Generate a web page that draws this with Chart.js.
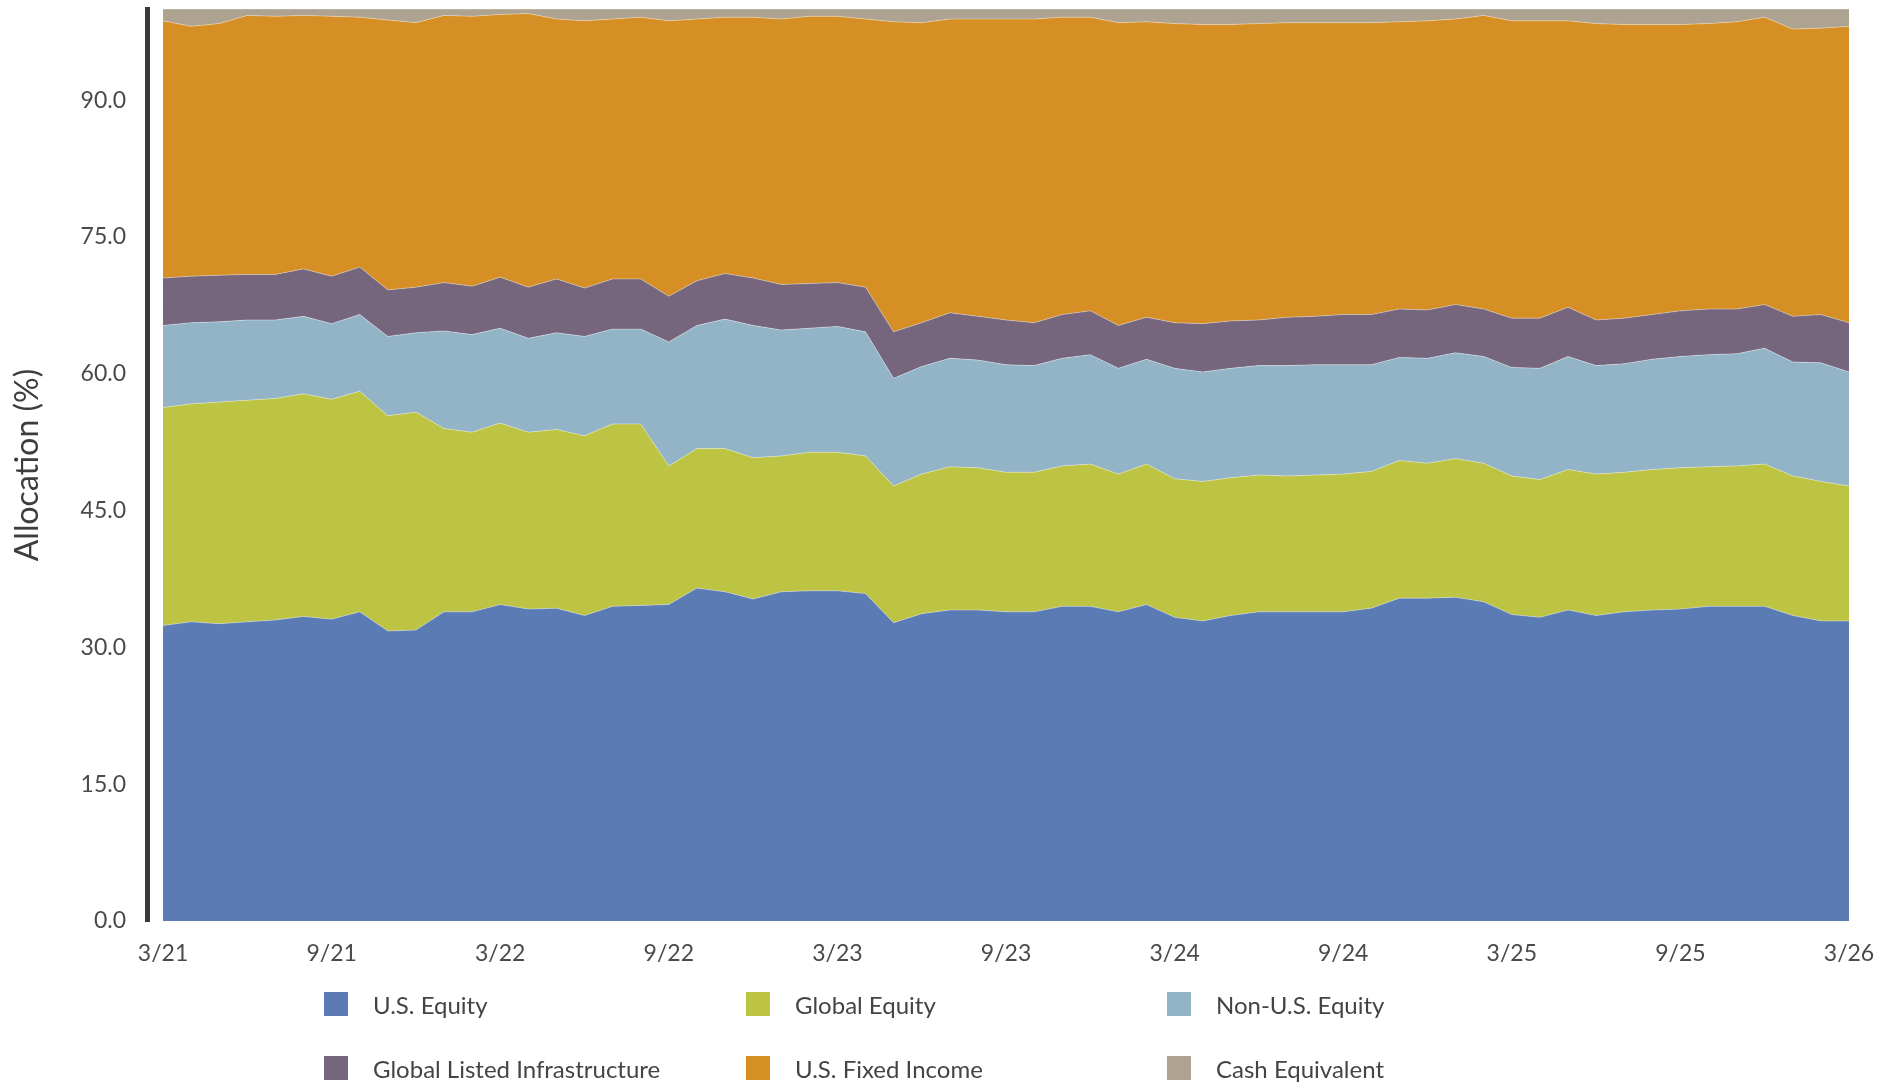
<!DOCTYPE html>
<html>
<head>
<meta charset="utf-8">
<title>Allocation</title>
<script src="https://cdn.jsdelivr.net/npm/chart.js@4.4.1/dist/chart.umd.min.js"></script>
<style>
  body { margin: 0; background: #fff; }
  #wrap { position: relative; width: 1895px; height: 1085px; }
  #legend {
    position: absolute; left: 324px; top: 992px;
    display: grid; grid-template-columns: 422px 421px 320px; row-gap: 40px;
    font-family: Lato, "Open Sans", sans-serif; font-size: 24px; color: #444;
  }
  .item { display: flex; align-items: center; height: 24px; white-space: nowrap; }
  .box { width: 24px; height: 24px; margin-right: 25px; flex: none; }
</style>
</head>
<body>
<div id="wrap">
  <canvas id="alloc" width="1895" height="1085"></canvas>
  <div id="legend"></div>
</div>
<script>
// mois de fin, de 3/21 à 3/26
const months = [
  '3/21','4/21','5/21','6/21','7/21','8/21','9/21','10/21','11/21','12/21',
  '1/22','2/22','3/22','4/22','5/22','6/22','7/22','8/22','9/22','10/22','11/22','12/22',
  '1/23','2/23','3/23','4/23','5/23','6/23','7/23','8/23','9/23','10/23','11/23','12/23',
  '1/24','2/24','3/24','4/24','5/24','6/24','7/24','8/24','9/24','10/24','11/24','12/24',
  '1/25','2/25','3/25','4/25','5/25','6/25','7/25','8/25','9/25','10/25','11/25','12/25',
  '1/26','2/26','3/26'
];
const xTickLabels = ['3/21','9/21','3/22','9/22','3/23','9/23','3/24','9/24','3/25','9/25','3/26'];
const yTicks = [0, 15, 30, 45, 60, 75, 90];

const usEquity = [
  32.4,32.8,32.6,32.8,33.0,33.4,33.1,33.9,31.8,31.9,
  33.9,33.9,34.7,34.2,34.3,33.5,34.5,34.6,34.7,36.5,36.1,35.3,
  36.1,36.2,36.2,35.9,32.7,33.7,34.1,34.1,33.9,33.9,34.5,34.5,
  33.9,34.7,33.3,32.9,33.5,33.9,33.9,33.9,33.9,34.3,35.4,35.4,
  35.5,35.0,33.6,33.3,34.1,33.5,33.9,34.1,34.2,34.5,34.5,34.5,
  33.5,32.9,32.9
];
const globalEquity = [
  23.9,23.9,24.3,24.3,24.3,24.4,24.1,24.2,23.6,23.9,
  20.1,19.7,19.9,19.4,19.6,19.7,20.0,19.9,15.2,15.3,15.7,15.5,
  14.9,15.2,15.2,15.1,15.0,15.3,15.7,15.6,15.3,15.3,15.4,15.6,
  15.1,15.4,15.2,15.3,15.1,15.0,14.9,15.0,15.1,15.0,15.1,14.8,
  15.2,15.2,15.2,15.1,15.4,15.5,15.3,15.4,15.5,15.3,15.4,15.6,
  15.3,15.3,14.8
];
const nonUsEquity = [
  9.0,8.9,8.8,8.8,8.6,8.5,8.3,8.4,8.7,8.7,
  10.7,10.7,10.4,10.3,10.6,10.9,10.4,10.4,13.6,13.5,14.2,14.5,
  13.8,13.6,13.8,13.6,11.8,11.8,11.9,11.8,11.8,11.7,11.8,12.0,
  11.6,11.5,12.1,12.0,12.0,12.0,12.1,12.1,12.0,11.7,11.3,11.5,
  11.6,11.7,11.9,12.2,12.4,11.9,11.9,12.1,12.2,12.3,12.3,12.7,
  12.5,13.0,12.5
];
const infrastructure = [
  5.2,5.1,5.1,5.0,5.0,5.2,5.2,5.2,5.1,5.0,
  5.3,5.3,5.6,5.6,5.9,5.3,5.5,5.5,5.0,4.9,5.0,5.2,
  5.0,4.9,4.8,4.9,5.1,4.8,5.0,4.8,4.9,4.7,4.8,4.8,
  4.7,4.6,5.0,5.3,5.2,5.0,5.3,5.3,5.5,5.5,5.3,5.3,
  5.3,5.2,5.4,5.5,5.4,5.0,5.0,4.9,5.0,5.0,4.9,4.8,
  5.0,5.3,5.4
];
const fixedIncome = [
  28.2,27.4,27.6,28.4,28.3,27.8,28.5,27.4,29.6,29.0,
  29.3,29.6,28.8,30.0,28.5,29.3,28.5,28.7,30.2,28.7,28.1,28.6,
  29.1,29.3,29.2,29.4,34.0,32.9,32.2,32.6,33.0,33.3,32.6,32.2,
  33.2,32.4,32.8,32.8,32.5,32.5,32.3,32.2,32.0,32.0,31.5,31.7,
  31.3,32.2,32.6,32.6,31.4,32.5,32.2,31.8,31.4,31.3,31.5,31.5,
  31.5,31.4,32.5
];
const cash = [
  1.3,1.9,1.6,0.7,0.8,0.7,0.8,0.9,1.2,1.5,
  0.7,0.8,0.6,0.5,1.1,1.3,1.1,0.9,1.3,1.1,0.9,0.9,
  1.1,0.8,0.8,1.1,1.4,1.5,1.1,1.1,1.1,1.1,0.9,0.9,
  1.5,1.4,1.6,1.7,1.7,1.6,1.5,1.5,1.5,1.5,1.4,1.3,
  1.1,0.7,1.3,1.3,1.3,1.6,1.7,1.7,1.7,1.6,1.4,0.9,
  2.2,2.1,1.9
];

const seriesNames = ['U.S. Equity', 'Global Equity', 'Non-U.S. Equity',
  'Global Listed Infrastructure', 'U.S. Fixed Income', 'Cash Equivalent'];
const seriesColors = ['#5b7bb4', '#bdc342', '#93b4c7', '#75667d', '#d68f24', '#aea391'];
const seriesValues = [usEquity, globalEquity, nonUsEquity, infrastructure, fixedIncome, cash];

// points {x: index du mois, y: valeur}
function toPoints(values) {
  return values.map((v, i) => ({ x: i, y: v }));
}

const datasets = seriesValues.map((values, k) => ({
  label: seriesNames[k],
  data: toPoints(values),
  backgroundColor: seriesColors[k],
  borderColor: 'rgba(255,255,255,0.35)',
  borderWidth: 1,
  pointRadius: 0,
  tension: 0,
  fill: k === 0 ? 'origin' : '-1'
}));

const tickFont = { family: 'Lato, "Open Sans", sans-serif', size: 23 };

const chart = new Chart(document.getElementById('alloc'), {
  type: 'line',
  data: { datasets: datasets },
  options: {
    responsive: false,
    animation: false,
    layout: { padding: { top: 9, right: 46, left: 0, bottom: 0 } },
    plugins: {
      legend: { display: false },
      tooltip: { enabled: false }
    },
    scales: {
      x: {
        type: 'linear',
        min: -0.57,
        max: 60,
        grid: { display: false, drawTicks: false },
        border: { display: false },
        afterBuildTicks: (scale) => {
          scale.ticks = xTickLabels.map(l => ({ value: months.indexOf(l) }));
        },
        afterFit: (scale) => { scale.height = 164; },
        ticks: {
          autoSkip: false,
          maxRotation: 0,
          padding: 19,
          color: '#4a4a4a',
          font: tickFont,
          callback: (v) => months[v]
        }
      },
      y: {
        stacked: true,
        min: 0,
        max: 100,
        grid: { display: false, drawTicks: false },
        border: { display: true, color: '#3b3936', width: 5 },
        afterBuildTicks: (scale) => {
          scale.ticks = yTicks.map(v => ({ value: v }));
        },
        afterFit: (scale) => {
          // largeur fixe, pas de marge ajoutée au-dessus du graphique
          scale.width = 147;
          scale.paddingTop = 0;
          scale.paddingBottom = 0;
        },
        ticks: {
          padding: 21,
          color: '#4a4a4a',
          font: tickFont,
          callback: (v) => v.toFixed(1)
        },
        title: {
          display: true,
          text: 'Allocation (%)',
          color: '#3d3d3d',
          padding: { top: 8, bottom: 0 },
          font: { family: 'Lato, "Open Sans", sans-serif', size: 32, weight: 'normal' }
        }
      }
    }
  }
});

// légende HTML à partir des datasets
const legend = document.getElementById('legend');
chart.data.datasets.forEach((ds) => {
  const item = document.createElement('div');
  item.className = 'item';
  const box = document.createElement('span');
  box.className = 'box';
  box.style.background = ds.backgroundColor;
  const txt = document.createElement('span');
  txt.textContent = ds.label;
  item.appendChild(box);
  item.appendChild(txt);
  legend.appendChild(item);
});
</script>
</body>
</html>
